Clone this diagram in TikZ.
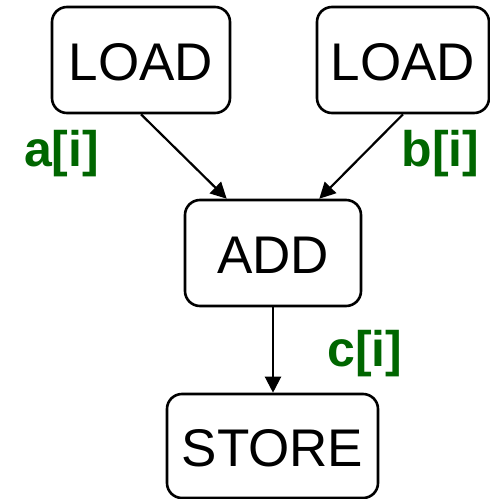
\documentclass[tikz,border=0pt]{standalone}
\usepackage{fontspec}
\setmainfont{Liberation Sans}
\usetikzlibrary{arrows.meta}
\definecolor{labelgreen}{RGB}{0,102,0}
\begin{document}
\begin{tikzpicture}[x=1pt,y=-1pt,
  opbox/.style={draw, line width=2.6pt, rounded corners=15pt, inner sep=0pt,
    text height=40pt, text depth=0pt, font=\fontsize{53}{58}\selectfont},
  flow/.style={line width=2.2pt, -{Triangle[length=16pt,width=16pt]}},
  varlabel/.style={anchor=base, text=labelgreen, font=\fontsize{50}{55}\selectfont\bfseries}]
\useasboundingbox (0,0) rectangle (490,499);
\node[opbox, minimum width=178pt, minimum height=106pt] (l1) at (141,60) {LOAD};
\node[opbox, minimum width=172pt, minimum height=106pt] (l2) at (403,60) {LOAD};
\node[opbox, minimum width=176pt, minimum height=106pt] (add) at (273,253) {ADD};
\node[opbox, minimum width=211pt, minimum height=104pt] (st) at (272.5,446) {STORE};
\draw[flow] (l1.south) -- ([xshift=43pt]add.north west);
\draw[flow] (l2.south) -- ([xshift=-43pt]add.north east);
\draw[flow] (add.south) -- (add.south |- st.north);
\node[varlabel] (la) at (61.5,166) {a[i]};
\node[varlabel] (lb) at (440.5,166) {b[i]};
\node[varlabel] (lc) at (365,366) {c[i]};
\end{tikzpicture}
\end{document}
